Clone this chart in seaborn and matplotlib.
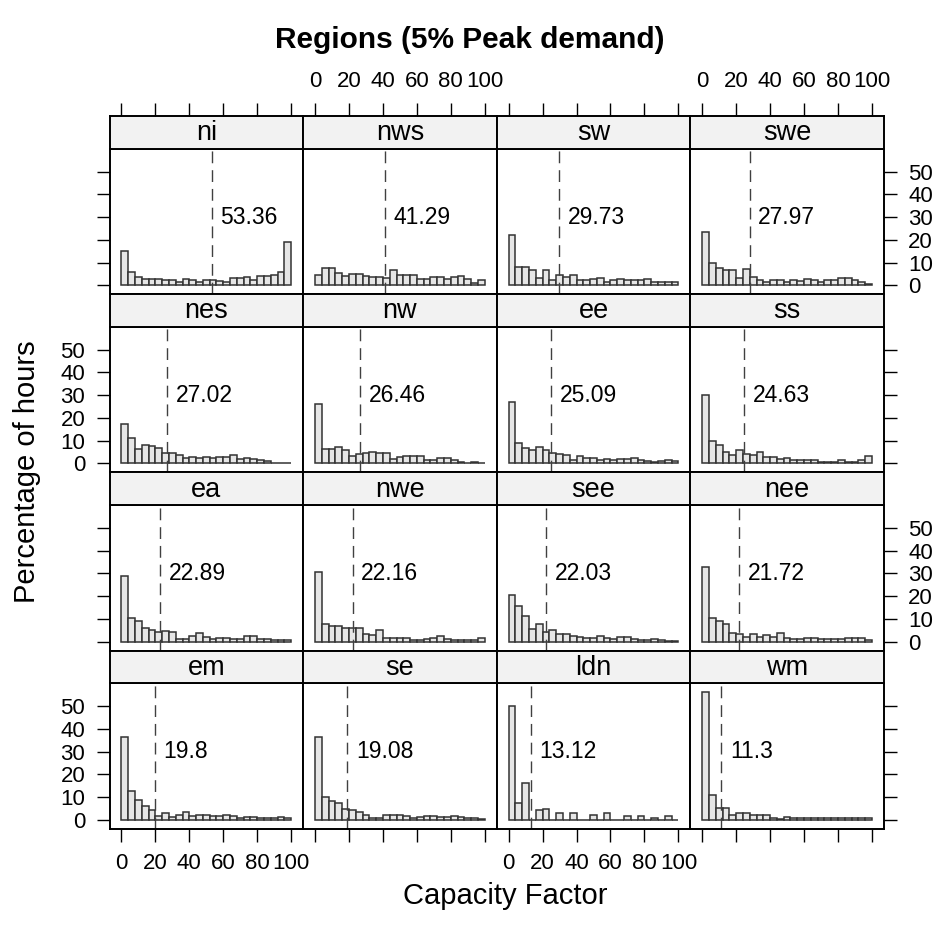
import numpy as np
import pandas as pd
import matplotlib
matplotlib.use("Agg")
import matplotlib.pyplot as plt
import seaborn as sns

sns.set_style("white")
plt.rcParams["font.family"] = ["Liberation Sans", "DejaVu Sans"]
plt.rcParams["text.color"] = "black"
plt.rcParams["axes.labelcolor"] = "black"
plt.rcParams["xtick.color"] = "black"
plt.rcParams["ytick.color"] = "black"

# Regions in panel order (left-to-right, top-to-bottom) and their mean capacity factor
regions = ["ni", "nws", "sw", "swe", "nes", "nw", "ee", "ss",
           "ea", "nwe", "see", "nee", "em", "se", "ldn", "wm"]
mean_cf = [53.36, 41.29, 29.73, 27.97, 27.02, 26.46, 25.09, 24.63,
           22.89, 22.16, 22.03, 21.72, 19.8, 19.08, 13.12, 11.3]

# Histogram breaks for capacity factor (%)
bin_width = 4
bin_range = (0, 100)
bin_edges = np.arange(bin_range[0], bin_range[1] + 1, bin_width)

# Percentage of hours falling in each capacity-factor bin
pct_ni = [15.1, 5.9, 3.7, 2.9, 2.6, 2.9, 2.2, 2.2, 1.5, 2.9, 2.2, 1.5, 2.5,
          2.2, 1.9, 1.5, 3.4, 3.4, 3.7, 2.5, 4.0, 4.0, 4.7, 5.9, 19.1]
pct_nws = [4.7, 7.8, 7.4, 5.6, 4.1, 5.1, 5.1, 4.0, 3.7, 3.7, 3.4, 6.6, 4.7,
           4.7, 4.7, 2.6, 2.6, 3.7, 3.7, 2.6, 3.7, 4.0, 2.6, 1.2, 2.2]
pct_sw = [22.1, 7.9, 7.9, 6.5, 3.2, 6.5, 2.5, 4.3, 3.7, 4.3, 2.2, 2.2, 2.8,
          3.4, 1.6, 2.2, 2.9, 2.5, 2.5, 2.2, 2.9, 1.3, 1.3, 1.6, 1.3]
pct_swe = [23.5, 10.0, 7.8, 6.6, 6.6, 3.2, 7.2, 3.7, 2.2, 1.6, 2.2, 2.2, 1.6,
           2.2, 1.9, 2.9, 2.2, 1.6, 2.2, 2.2, 3.2, 3.2, 2.5, 1.3, 0.6]
pct_nes = [17.4, 11.2, 6.5, 8.2, 7.5, 6.8, 4.6, 4.6, 3.8, 2.4, 2.8, 2.4, 2.8,
           2.4, 2.8, 2.8, 3.8, 1.8, 2.4, 2.1, 1.3, 1.0, 0.2, 0.2, 0.2]
pct_nw = [26.2, 6.3, 6.3, 7.1, 5.7, 3.2, 4.3, 4.7, 5.0, 4.7, 4.7, 2.1, 2.8,
          3.2, 3.2, 3.2, 1.6, 1.6, 2.4, 2.4, 1.3, 0.6, 0.3, 0.6, 0.3]
pct_ee = [27.1, 9.0, 6.8, 5.7, 7.1, 5.9, 4.7, 4.3, 3.5, 1.6, 3.2, 2.4, 2.4,
          1.6, 2.1, 1.3, 2.1, 2.1, 2.4, 1.3, 1.0, 0.6, 1.0, 1.3, 0.9]
pct_ss = [29.9, 9.7, 7.9, 4.9, 3.8, 6.0, 4.3, 3.8, 5.0, 2.8, 2.8, 2.1, 2.4,
          1.6, 1.6, 1.6, 1.6, 0.6, 0.6, 0.6, 1.3, 0.6, 0.6, 1.3, 3.1]
pct_ea = [29.0, 10.4, 9.1, 6.2, 5.3, 4.3, 4.7, 4.4, 1.3, 1.3, 2.5, 3.7, 2.2,
          1.0, 1.6, 1.6, 1.3, 1.0, 2.4, 2.4, 1.0, 1.0, 0.7, 0.9, 0.7]
pct_nwe = [30.7, 7.7, 7.1, 6.9, 5.9, 6.2, 5.9, 3.2, 2.8, 5.0, 1.6, 1.6, 1.6,
           1.6, 0.7, 0.7, 1.2, 1.8, 2.4, 1.0, 0.7, 0.7, 0.7, 0.7, 1.5]
pct_see = [20.6, 15.7, 11.3, 5.7, 7.6, 4.4, 5.0, 3.5, 3.5, 2.4, 2.0, 1.8, 1.6,
           2.4, 1.8, 1.3, 2.0, 2.2, 1.3, 0.9, 0.7, 1.0, 0.6, 0.5, 0.5]
pct_nee = [32.9, 10.6, 9.0, 7.9, 4.0, 3.5, 2.2, 3.2, 2.1, 3.1, 2.2, 4.0, 1.6,
           1.3, 1.0, 1.8, 1.6, 1.0, 1.0, 1.0, 1.0, 1.8, 1.6, 1.6, 0.6]
pct_em = [36.6, 12.8, 8.8, 5.9, 4.3, 1.6, 2.8, 1.3, 2.2, 3.5, 1.6, 2.2, 2.2,
          1.6, 1.6, 2.2, 1.6, 1.0, 1.3, 1.3, 1.0, 1.0, 1.0, 1.3, 0.6]
pct_se = [36.6, 10.1, 8.4, 7.4, 4.7, 4.4, 3.5, 2.2, 0.7, 0.7, 2.2, 2.1, 2.1,
          1.6, 0.7, 1.3, 1.6, 1.6, 1.3, 1.3, 1.6, 1.3, 0.6, 0.6, 0.3]
pct_ldn = [50.0, 7.4, 16.3, 0.0, 4.3, 4.7, 0.0, 2.8, 0.0, 3.1, 0.0, 0.0, 2.2,
           0.0, 2.9, 0.0, 0.0, 1.8, 0.0, 1.6, 0.0, 0.6, 0.0, 1.8, 0.0]
pct_wm = [56.2, 10.9, 5.4, 5.4, 2.2, 2.9, 2.9, 2.2, 2.2, 2.2, 0.7, 0.3, 1.3,
          1.0, 0.7, 0.7, 0.6, 0.6, 0.6, 0.7, 0.6, 1.0, 0.6, 0.6, 0.6]

pct_by_region = {
    "ni": pct_ni, "nws": pct_nws, "sw": pct_sw, "swe": pct_swe,
    "nes": pct_nes, "nw": pct_nw, "ee": pct_ee, "ss": pct_ss,
    "ea": pct_ea, "nwe": pct_nwe, "see": pct_see, "nee": pct_nee,
    "em": pct_em, "se": pct_se, "ldn": pct_ldn, "wm": pct_wm,
}

x_ticks = [0, 20, 40, 60, 80, 100]
y_ticks = [0, 10, 20, 30, 40, 50]

# Long-format table: one row per (region, bin)
centres = (bin_edges[:-1] + bin_edges[1:]) / 2
df = pd.concat(
    [pd.DataFrame({"region": reg, "cf": centres, "pct": pct_by_region[reg]})
     for reg in regions],
    ignore_index=True,
)

# Trellis-style limits: 7% padding around the data range
ymax = df["pct"].max()
span = bin_range[1] - bin_range[0]
xlim = (bin_range[0] - 0.07 * span, bin_range[1] + 0.07 * span)
ylim = (-0.07 * ymax, ymax * 1.07)

W, H = 940, 925
fig = plt.figure(figsize=(W / 100, H / 100), dpi=100)

# Layout in pixels
col_left0, col_w = 109.5, 193.6
panel_top0, row_pitch = 148.5, 178.2
strip_h, panel_h = 32.5, 145.7

BAR_FILL = "#E6E6E6"
BAR_EDGE = "#333333"
STRIP_BG = "#F2F2F2"
FRAME_LW = 1.4
TICK_KW = dict(direction="out", length=9.5, width=1.0, pad=8,
               labelsize=16, color="black", labelcolor="black")

for idx, reg in enumerate(regions):
    r, c = divmod(idx, 4)
    left = col_left0 + c * col_w
    top = panel_top0 + r * row_pitch

    ax = fig.add_axes([left / W, 1 - (top + panel_h) / H, col_w / W, panel_h / H])
    sub = df[df["region"] == reg]
    sns.histplot(data=sub, x="cf", weights="pct", binwidth=bin_width,
                 binrange=bin_range, stat="count",
                 color=BAR_FILL, edgecolor=BAR_EDGE, linewidth=1.1, alpha=1,
                 ax=ax)
    ax.set_xlim(xlim)
    ax.set_ylim(ylim)
    ax.set_xlabel("")
    ax.set_ylabel("")
    ax.grid(False)

    m = mean_cf[idx]
    ax.axvline(m, color="#404040", lw=1.0, ls=(0, (8.5, 5)))
    ax.text(m + 5.0, 30, f"{m:g}", fontsize=16.5, ha="left", va="center",
            color="black")

    for sp in ax.spines.values():
        sp.set_linewidth(FRAME_LW)
        sp.set_color("black")

    ax.set_xticks(x_ticks)
    ax.set_yticks(y_ticks)
    ax.tick_params(**TICK_KW)
    on_bottom = r == 3
    on_left = c == 0
    on_right = c == 3
    ax.tick_params(axis="x", bottom=on_bottom, top=False,
                   labelbottom=on_bottom and c % 2 == 0, labeltop=False)
    ax.tick_params(axis="y", left=on_left, right=on_right,
                   labelleft=on_left and r % 2 == 1,
                   labelright=on_right and r % 2 == 0)

    # Strip with the region name
    sax = fig.add_axes([left / W, 1 - top / H, col_w / W, strip_h / H])
    sax.set_facecolor(STRIP_BG)
    sax.set_xlim(xlim)
    sax.set_ylim(0, 1)
    sax.text(50, 0.47, reg, fontsize=19.5, ha="center", va="center")
    for sp in sax.spines.values():
        sp.set_linewidth(FRAME_LW)
        sp.set_color("black")
    sax.set_yticks([])
    if r == 0:
        sax.set_xticks(x_ticks)
        sax.tick_params(**TICK_KW)
        sax.tick_params(axis="x", top=True, bottom=False,
                        labeltop=c % 2 == 1, labelbottom=False)
    else:
        sax.set_xticks([])

fig.text(0.5, 1 - 40 / H, "Regions (5% Peak demand)", ha="center",
         va="center", fontsize=21.5, fontweight="bold", color="black")
fig.text(27 / W, 1 - 472 / H, "Percentage of hours", rotation=90,
         ha="center", va="center", fontsize=21, color="black")
fig.text(505 / W, 1 - 896 / H, "Capacity Factor", ha="center",
         va="center", fontsize=21, color="black")

fig.savefig("out.png", dpi=100)
